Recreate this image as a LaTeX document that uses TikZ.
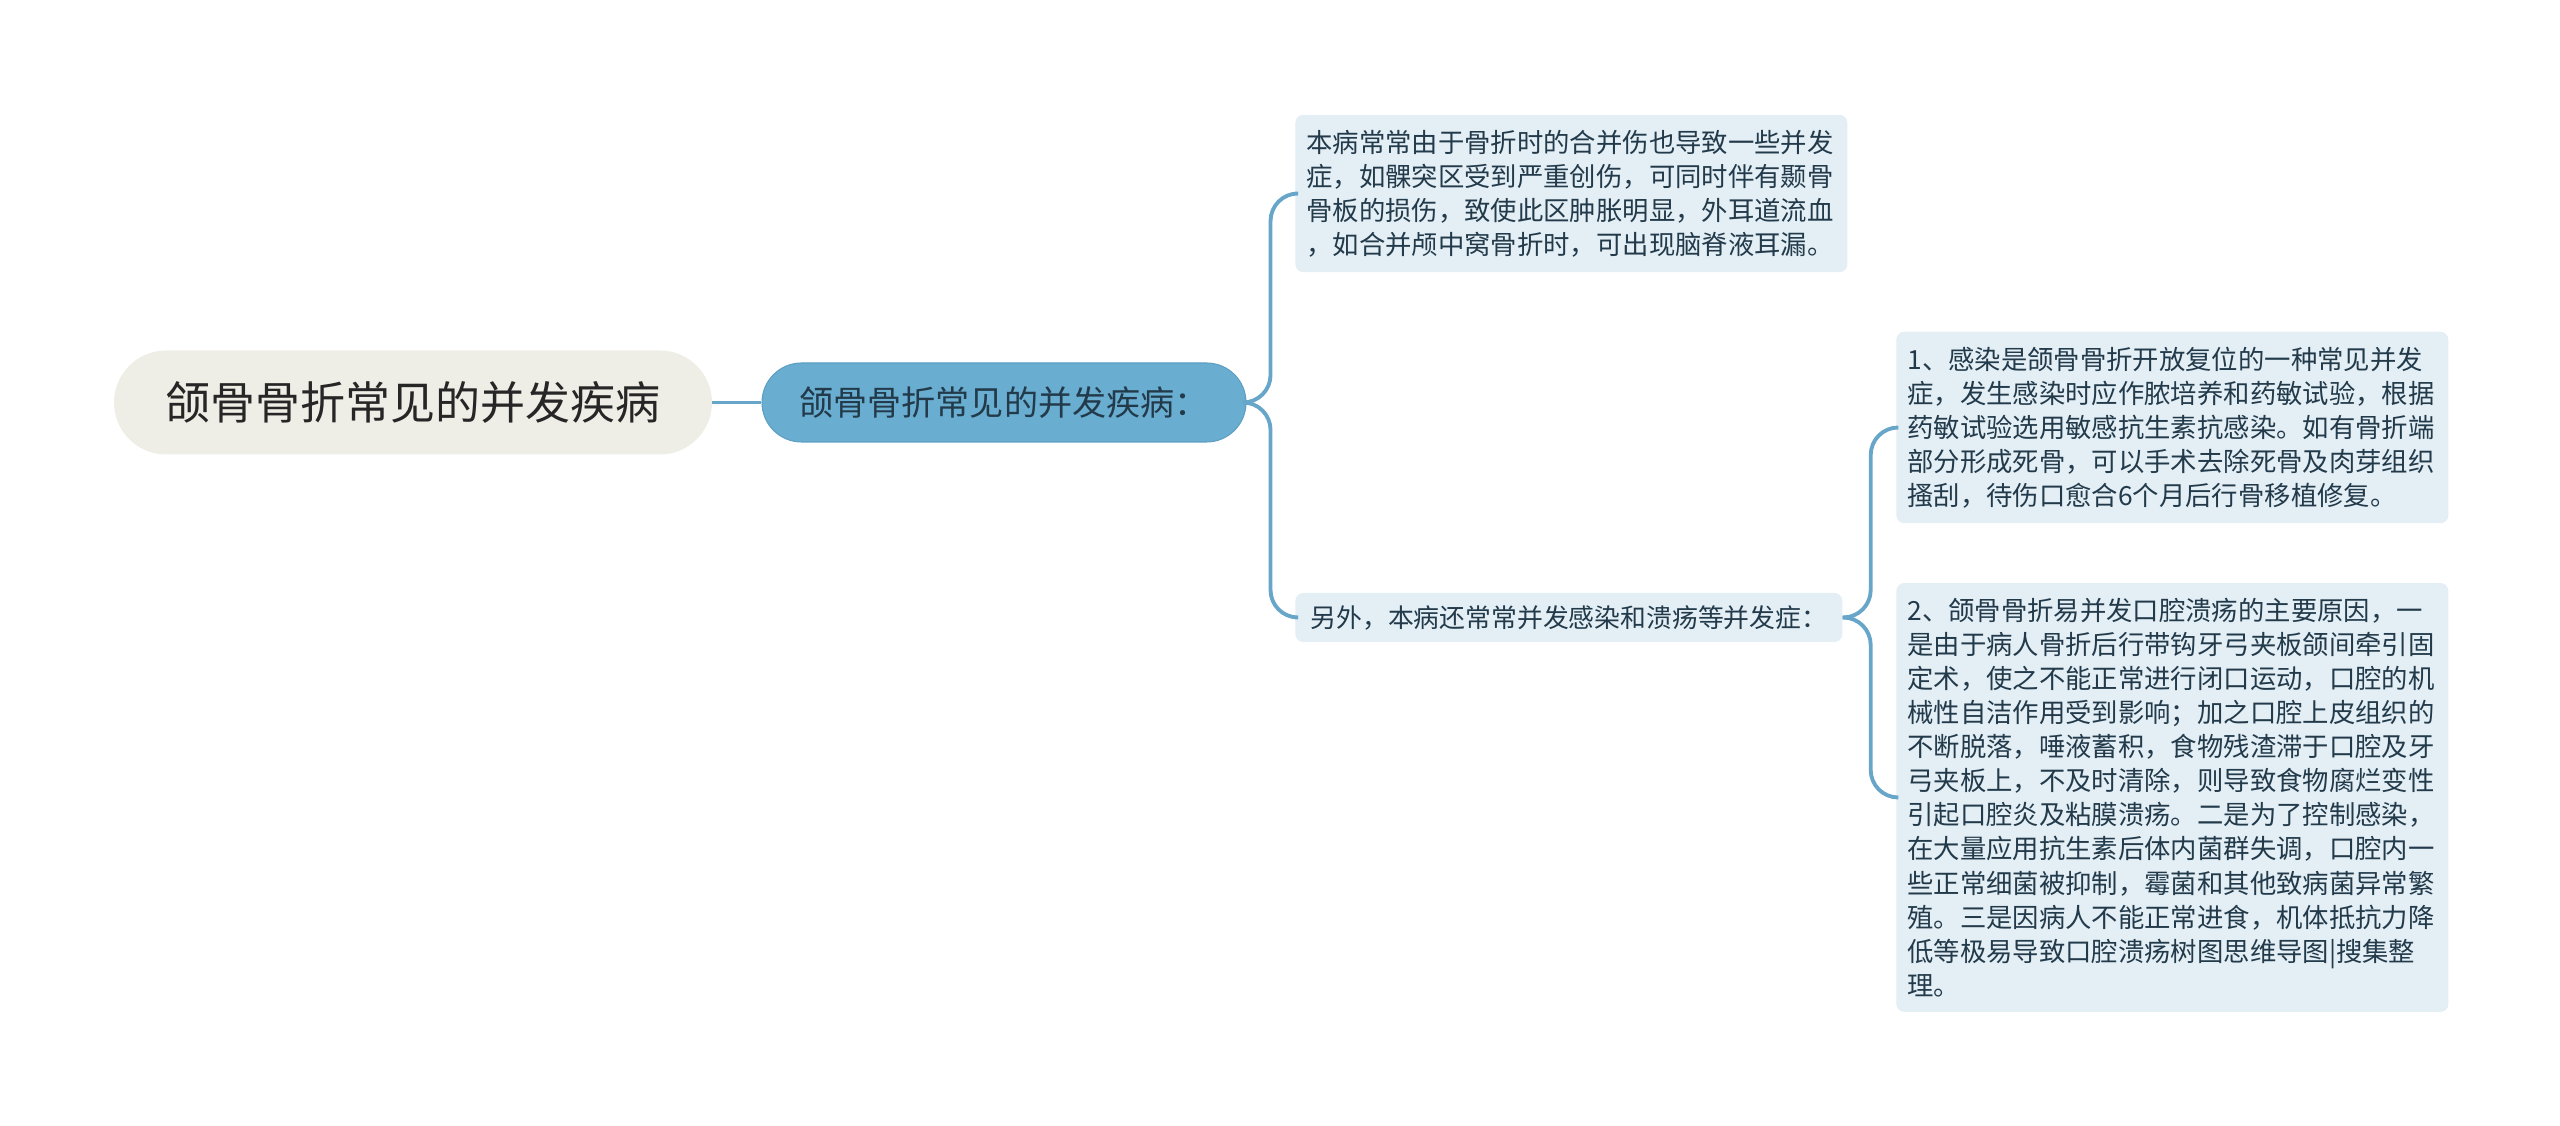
\documentclass[tikz,border=0pt]{standalone}
\usepackage{fontspec}
\setmainfont{Noto Sans CJK SC}
\usepackage{tikz}
\definecolor{linkblue}{HTML}{67A6C9}
\definecolor{leafblue}{HTML}{E3EEF5}
\definecolor{mainblue}{HTML}{69ADD0}
\definecolor{mainedge}{HTML}{5E9FC3}
\definecolor{rootgray}{HTML}{EFEEE6}
\definecolor{inkblue}{HTML}{223A4A}

\begin{document}
\begin{tikzpicture}[
		link/.style={draw=linkblue, line width=2.2pt, rounded corners=0.55cm},
		rootbox/.style={fill=rootgray, rounded corners=1.04cm, minimum width=11.96cm, minimum height=2.08cm, text=black!85, font=\fontsize{25.6pt}{30pt}\selectfont},
		mainbox/.style={fill=mainblue, draw=mainedge, line width=0.6pt, rounded corners=0.79cm, minimum width=9.68cm, minimum height=1.58cm, text=inkblue, font=\fontsize{19.4pt}{24pt}\selectfont},
		leaf/.style={fill=leafblue, rounded corners=0.16cm, anchor=west, align=left, text width=10.6cm, inner xsep=0.22cm, inner ysep=0.3cm, text=inkblue, font=\fontsize{15pt}{19.4pt}\selectfont},
		midbox/.style={fill=leafblue, rounded corners=0.16cm, anchor=west, minimum width=10.94cm, minimum height=0.98cm, inner xsep=0.26cm, text=inkblue, font=\fontsize{14.7pt}{18pt}\selectfont}]
		\useasboundingbox (0,0) rectangle (51.2,22.52);
		
		\node[rootbox] (root) at (8.26,14.47) {颌骨骨折常见的并发疾病};
		\node[mainbox] (main) at (20.08,14.47) {颌骨骨折常见的并发疾病：};
		\node[leaf] (leaf1) at (25.9,18.65) {本病常常由于骨折时的合并伤也导致一些并发\\症，如髁突区受到严重创伤，可同时伴有颞骨\\骨板的损伤，致使此区肿胀明显，外耳道流血\\，如合并颅中窝骨折时，可出现脑脊液耳漏。};
		\node[midbox] (other) at (25.9,10.17) {另外，本病还常常并发感染和溃疡等并发症：};
		\node[leaf] (leaf2) at (37.92,13.97) {1、感染是颌骨骨折开放复位的一种常见并发\\症，发生感染时应作脓培养和药敏试验，根据\\药敏试验选用敏感抗生素抗感染。如有骨折端\\部分形成死骨，可以手术去除死骨及肉芽组织\\搔刮，待伤口愈合6个月后行骨移植修复。};
		\node[leaf] (leaf3) at (37.92,6.57) {2、颌骨骨折易并发口腔溃疡的主要原因，一\\是由于病人骨折后行带钩牙弓夹板颌间牵引固\\定术，使之不能正常进行闭口运动，口腔的机\\械性自洁作用受到影响；加之口腔上皮组织的\\不断脱落，唾液蓄积，食物残渣滞于口腔及牙\\弓夹板上，不及时清除，则导致食物腐烂变性\\引起口腔炎及粘膜溃疡。二是为了控制感染，\\在大量应用抗生素后体内菌群失调，口腔内一\\些正常细菌被抑制，霉菌和其他致病菌异常繁\\殖。三是因病人不能正常进食，机体抵抗力降\\低等极易导致口腔溃疡树图思维导图|搜集整\\理。};
		
		\draw[link] (root) -- (main);
		\draw[link] (main.east) -- ++(0.48,0) |- (leaf1.west);
		\draw[link] (main.east) -- ++(0.48,0) |- (other.west);
		\draw[link] (other.east) -- ++(0.56,0) |- (leaf2.west);
		\draw[link] (other.east) -- ++(0.56,0) |- (leaf3.west);
	\end{tikzpicture}
\end{document}
